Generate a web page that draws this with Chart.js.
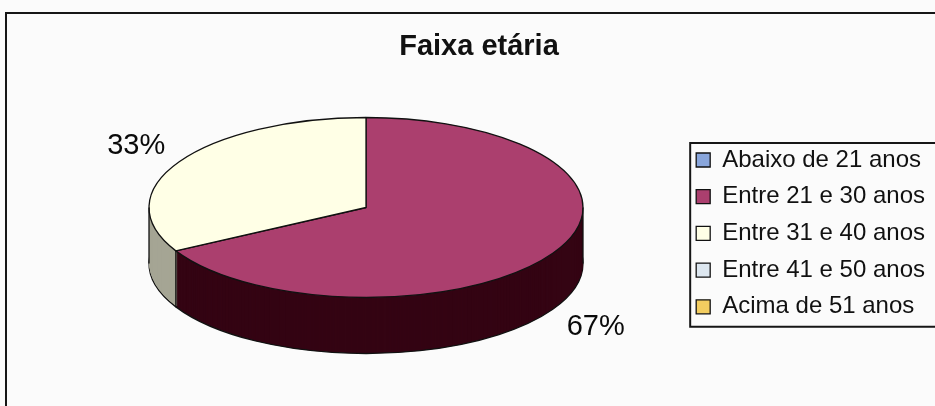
<!DOCTYPE html>
<html>
<head>
<meta charset="utf-8">
<script src="https://cdn.jsdelivr.net/npm/chart.js@4.4.0/dist/chart.umd.min.js"></script>
<style>
  html, body { margin: 0; padding: 0; background: #fbfbfb; overflow: hidden; }
  #wrap { width: 935px; height: 406px; position: relative; }
</style>
</head>
<body>
<div id="wrap"><canvas id="grafico" width="935" height="406"></canvas></div>
<script>
// dados
const categorias = ['Abaixo de 21 anos', 'Entre 21 e 30 anos', 'Entre 31 e 40 anos', 'Entre 41 e 50 anos', 'Acima de 51 anos'];
const percentuais = [0, 67, 33, 0, 0];

// cores (topo e lateral da pizza 3D)
const coresTopo = ['#89a6dc', '#ab3f6e', '#ffffe6', '#dde7f0', '#f3cd60'];
const coresLado = ['#4a6a9c', '#340413', '#a5a594', '#9aa4ae', '#a88a30'];

const FONTE = '"Liberation Sans", Arial, sans-serif';
// elipse do topo na tela
const PIZZA = { cx: 366, cy: 207.5, rx: 217, ry: 90, prof: 56 };

// desenha a pizza "achatada" com lateral, no estilo Excel 3D
const pizza3d = {
  id: 'pizza3d',
  beforeDraw(chart) {
    const { ctx } = chart;
    ctx.save();
    ctx.fillStyle = '#fbfbfb';
    ctx.fillRect(0, 0, chart.width, chart.height);
    ctx.strokeStyle = '#161616';
    ctx.lineWidth = 2;
    ctx.beginPath();
    ctx.moveTo(6, chart.height + 5);
    ctx.lineTo(6, 13);
    ctx.lineTo(chart.width + 5, 13);
    ctx.stroke();
    ctx.restore();
  },
  beforeDatasetsDraw(chart) {
    const { ctx } = chart;
    const arcs = chart.getDatasetMeta(0).data;
    const a0 = arcs[0];
    const sx = PIZZA.rx / a0.outerRadius, sy = PIZZA.ry / a0.outerRadius;

    // traço sempre em pixels de tela, mesmo com escala não uniforme
    const strokeOrig = CanvasRenderingContext2D.prototype.stroke;
    ctx.stroke = function () {
      this.save();
      this.setTransform(1, 0, 0, 1, 0, 0);
      strokeOrig.call(this);
      this.restore();
    };

    // lateral: várias camadas deslocadas para baixo
    for (let d = PIZZA.prof; d >= 1; d--) {
      ctx.save();
      ctx.translate(PIZZA.cx, PIZZA.cy + d);
      ctx.scale(sx, sy);
      ctx.translate(-a0.x, -a0.y);
      arcs.forEach((arc, i) => {
        const lado = Object.create(arc);
        lado.options = Object.assign({}, arc.options, {
          backgroundColor: coresLado[i],
          borderColor: '#111',
          borderWidth: d === PIZZA.prof ? 1.3 : 0
        });
        lado.draw(ctx);
      });
      ctx.restore();
    }

    // topo: desenho normal do Chart.js com a mesma transformação
    ctx.save();
    ctx.translate(PIZZA.cx, PIZZA.cy);
    ctx.scale(sx, sy);
    ctx.translate(-a0.x, -a0.y);
  },
  afterDatasetsDraw(chart) {
    const { ctx } = chart;
    ctx.restore();
    delete ctx.stroke;

    const arcs = chart.getDatasetMeta(0).data;
    const total = percentuais.reduce((a, b) => a + b, 0);

    // arestas verticais da lateral
    ctx.save();
    ctx.strokeStyle = '#111';
    ctx.lineWidth = 1.3;
    const bordas = [Math.PI, 0];
    arcs.forEach(arc => { if (arc.circumference > 0) bordas.push(arc.startAngle); });
    bordas.forEach(a => {
      if (Math.sin(a) < -1e-6) return;
      const x = PIZZA.cx + PIZZA.rx * Math.cos(a);
      const y = PIZZA.cy + PIZZA.ry * Math.sin(a);
      ctx.beginPath();
      ctx.moveTo(x, y);
      ctx.lineTo(x, y + PIZZA.prof);
      ctx.stroke();
    });

    // rótulos de porcentagem
    ctx.fillStyle = '#0a0a0a';
    ctx.font = '29px ' + FONTE;
    ctx.textAlign = 'center';
    ctx.textBaseline = 'middle';
    arcs.forEach((arc, i) => {
      if (!percentuais[i]) return;
      const m = (arc.startAngle + arc.endAngle) / 2;
      const x = PIZZA.cx + 1.23 * PIZZA.rx * Math.cos(m);
      let y = PIZZA.cy + 1.36 * PIZZA.ry * Math.sin(m);
      if (Math.sin(m) > 0) y += PIZZA.prof;
      ctx.fillText(Math.round(percentuais[i] / total * 100) + '%', x, y + 1);
    });
    ctx.restore();
  },
  afterDraw(chart) {
    // moldura da legenda
    const hb = chart.legend.legendHitBoxes;
    if (!hb || !hb.length) return;
    const { ctx } = chart;
    const esq = hb[0].left - 6;
    const topo = hb[0].top - 5;
    const base = hb[hb.length - 1].top + 32;
    ctx.save();
    ctx.strokeStyle = '#161616';
    ctx.lineWidth = 2;
    ctx.beginPath();
    ctx.moveTo(chart.width + 5, topo);
    ctx.lineTo(esq, topo);
    ctx.lineTo(esq, base);
    ctx.lineTo(chart.width + 5, base);
    ctx.stroke();
    ctx.restore();
  }
};

new Chart(document.getElementById('grafico'), {
  type: 'pie',
  data: {
    labels: categorias,
    datasets: [{
      data: percentuais,
      backgroundColor: coresTopo,
      borderColor: '#111',
      borderWidth: 1.3,
      clip: false
    }]
  },
  options: {
    responsive: false,
    animation: false,
    layout: { padding: { left: 23, right: 0, top: 0, bottom: 74.5 } },
    plugins: {
      title: {
        display: true,
        text: 'Faixa etária',
        color: '#111',
        font: { family: FONTE, size: 29, weight: 'bold' },
        padding: { top: 30, bottom: 10 }
      },
      legend: {
        position: 'right',
        align: 'end',
        labels: {
          color: '#111',
          font: { family: FONTE, size: 24 },
          boxWidth: 14,
          boxHeight: 14,
          padding: 12.7
        }
      },
      tooltip: { enabled: false }
    }
  },
  plugins: [pizza3d]
});
</script>
</body>
</html>
